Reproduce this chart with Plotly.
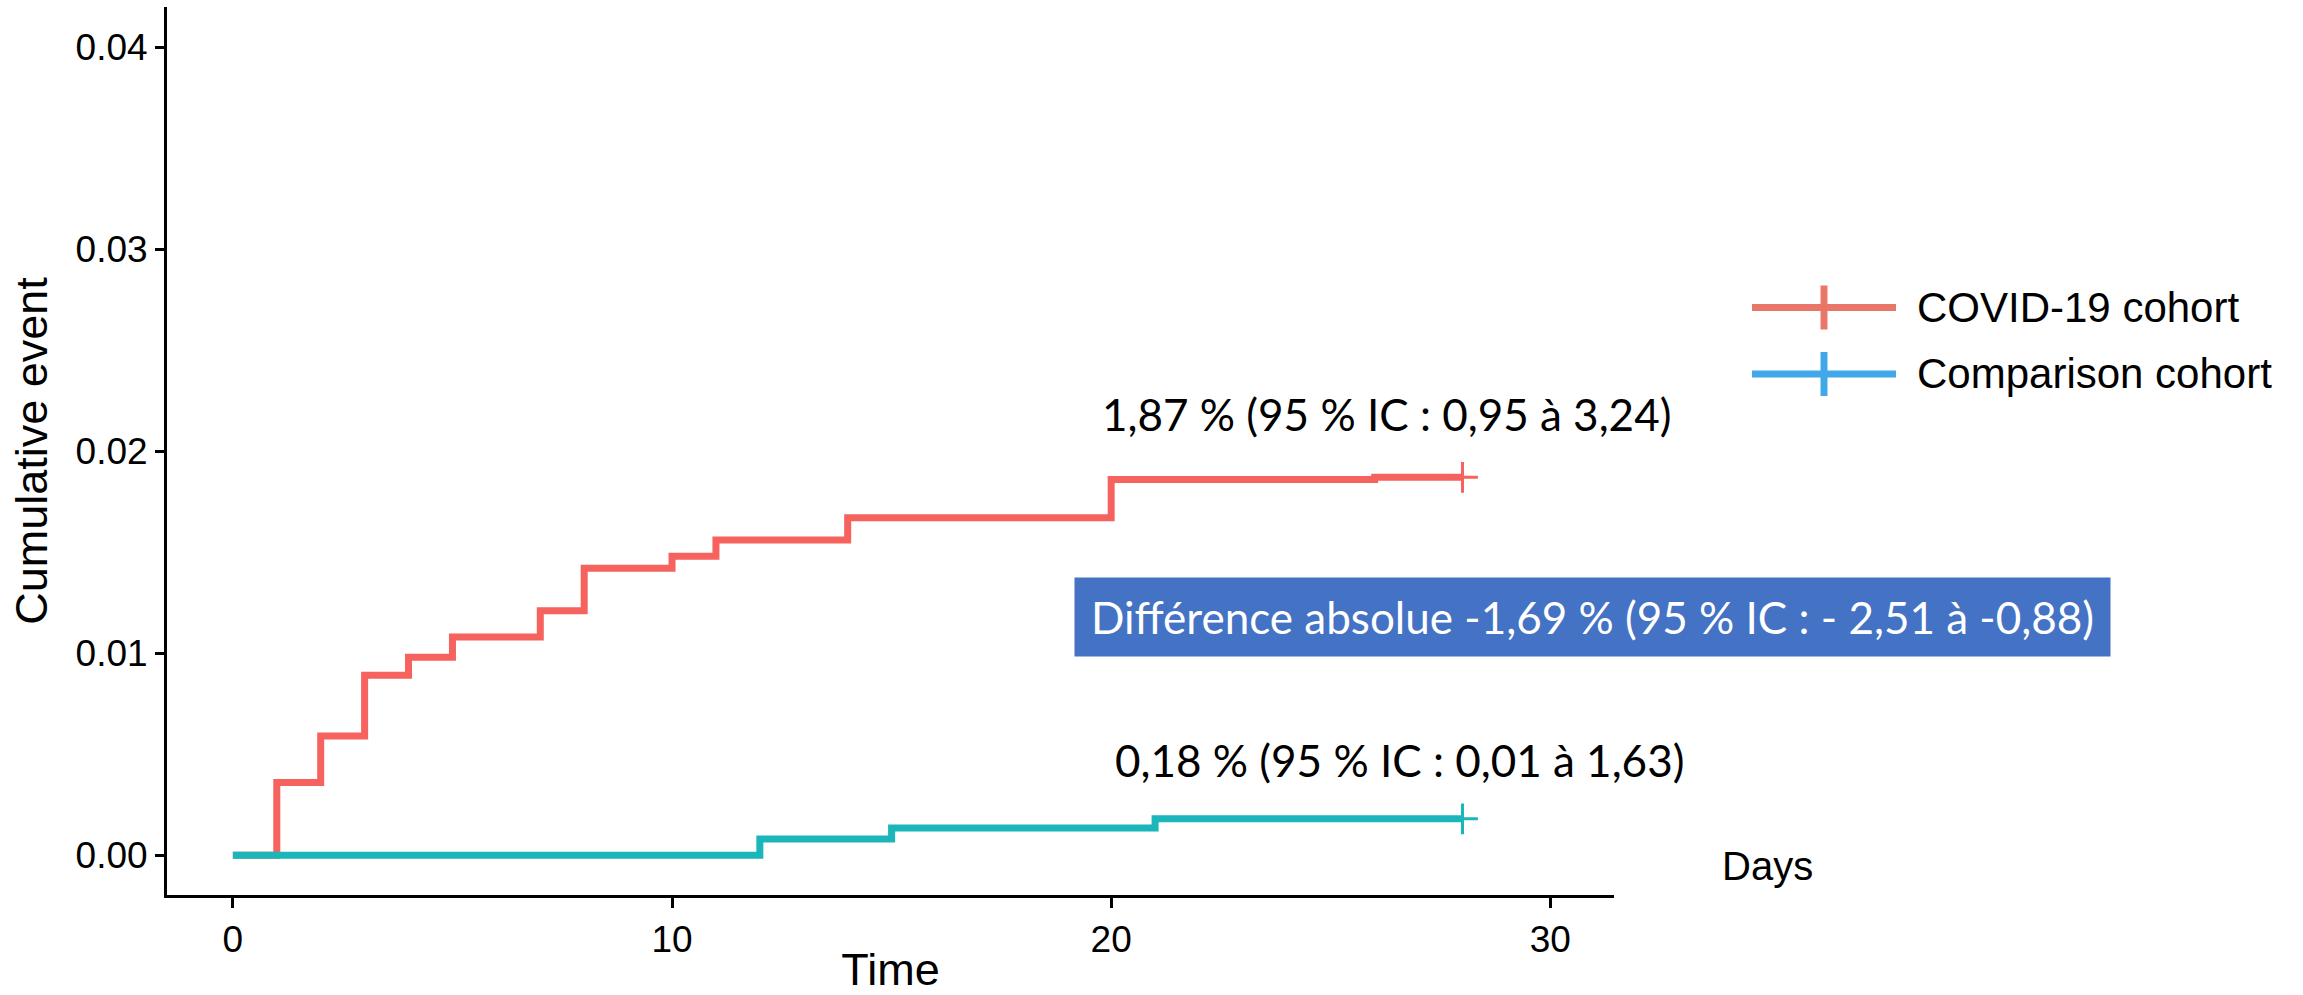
import plotly.graph_objects as go

# ---- data ----
covid_days = [0, 1, 2, 3, 4, 5, 7, 8, 10, 11, 14, 20, 26, 28]
covid_cum = [0.0, 0.0036, 0.0059, 0.0089, 0.0098, 0.0108, 0.0121, 0.0142,
             0.0148, 0.0156, 0.0167, 0.0186, 0.0187, 0.0187]
comp_days = [0, 12, 15, 21, 28]
comp_cum = [0.0, 0.0008, 0.00135, 0.0018, 0.0018]
censor_covid_day = [28]
censor_covid_val = [0.0187]
censor_comp_day = [28]
censor_comp_val = [0.0018]

series_names = ["COVID-19 cohort", "Comparison cohort"]
x_ticks = [0, 10, 20, 30]
y_ticks = [0.0, 0.01, 0.02, 0.03, 0.04]
y_ticktext = ["0.00", "0.01", "0.02", "0.03", "0.04"]

label_covid = "1,87 % (95 % IC : 0,95 à 3,24)"
label_comp = "0,18 % (95 % IC : 0,01 à 1,63)"
label_diff = "Différence absolue -1,69 % (95 % IC : - 2,51 à -0,88)"

RED = "#F6625D"
TEAL = "#1AB6B9"
LEG_RED = "#E97668"
LEG_BLUE = "#40A8E8"

W, H = 2303, 995
ML, MR, MT, MB = 167, 689, 7, 100
PW, PH = W - ML - MR, H - MT - MB


def px(xp):
    return (xp - ML) / PW


def py(yp):
    return (H - MB - yp) / PH


fig = go.Figure()
fig.add_trace(go.Scatter(x=covid_days, y=covid_cum, mode="lines",
                         line=dict(color=RED, width=7, shape="hv"),
                         name=series_names[0], showlegend=False))
fig.add_trace(go.Scatter(x=comp_days, y=comp_cum, mode="lines",
                         line=dict(color=TEAL, width=7, shape="hv"),
                         name=series_names[1], showlegend=False))
fig.add_trace(go.Scatter(x=censor_covid_day, y=censor_covid_val, mode="markers",
                         marker=dict(symbol="cross-thin", size=22,
                                     line=dict(color=RED, width=3)),
                         showlegend=False, hoverinfo="skip"))
fig.add_trace(go.Scatter(x=censor_comp_day, y=censor_comp_val, mode="markers",
                         marker=dict(symbol="cross-thin", size=22,
                                     line=dict(color=TEAL, width=3)),
                         showlegend=False, hoverinfo="skip"))

axis_font = dict(family="Liberation Sans, Arial, sans-serif", size=37, color="black")
title_font = dict(family="Liberation Sans, Arial, sans-serif", size=45, color="black")

fig.update_xaxes(range=[-1.5, 31.45], tickvals=x_ticks, ticks="outside",
                 ticklen=10, tickwidth=2.5, tickcolor="black",
                 showline=True, linewidth=3, linecolor="black",
                 showgrid=False, zeroline=False, tickfont=axis_font,
                 automargin=False,
                 title=dict(text="Time", font=title_font, standoff=6))
fig.update_yaxes(range=[-0.00197, 0.04198], tickvals=y_ticks, ticktext=y_ticktext,
                 ticks="outside", ticklen=9, tickwidth=2.5, tickcolor="black",
                 showline=True, linewidth=3, linecolor="black",
                 showgrid=False, zeroline=False, tickfont=axis_font,
                 automargin=False,
                 title=dict(text="Cumulative event", font=title_font, standoff=14))

ann_font = dict(family="Lato, Open Sans, sans-serif", size=44, color="black")
annotations = [
    dict(x=px(1100), y=py(414), xref="paper", yref="paper", xanchor="left",
         yanchor="middle", text=label_covid, showarrow=False, font=ann_font),
    dict(x=px(1113), y=py(760), xref="paper", yref="paper", xanchor="left",
         yanchor="middle", text=label_comp, showarrow=False, font=ann_font),
    dict(x=px((1075 + 2110) / 2), y=py(617), xref="paper", yref="paper",
         xanchor="center", yanchor="middle", text=label_diff, showarrow=False,
         width=1035, height=78, borderpad=0, bgcolor="#4472C4",
         font=dict(family="Lato, Open Sans, sans-serif", size=44, color="white")),
    dict(x=px(1767), y=py(866), xref="paper", yref="paper", xanchor="center",
         yanchor="middle", text="Days", showarrow=False,
         font=dict(family="Liberation Sans, Arial, sans-serif", size=40, color="black")),
    dict(x=px(1915), y=py(307), xref="paper", yref="paper", xanchor="left",
         yanchor="middle", text=series_names[0], showarrow=False,
         font=dict(family="Liberation Sans, Arial, sans-serif", size=42, color="black")),
    dict(x=px(1915), y=py(373), xref="paper", yref="paper", xanchor="left",
         yanchor="middle", text=series_names[1], showarrow=False,
         font=dict(family="Liberation Sans, Arial, sans-serif", size=42, color="black")),
]

shapes = []
for color, yc in [(LEG_RED, 307.5), (LEG_BLUE, 374)]:
    shapes.append(dict(type="line", xref="paper", yref="paper",
                       x0=px(1752), x1=px(1896), y0=py(yc), y1=py(yc),
                       line=dict(color=color, width=7)))
    shapes.append(dict(type="line", xref="paper", yref="paper",
                       x0=px(1824), x1=px(1824), y0=py(yc - 22), y1=py(yc + 22),
                       line=dict(color=color, width=7)))

fig.update_layout(width=W, height=H, margin=dict(l=ML, r=MR, t=MT, b=MB),
                  plot_bgcolor="white", paper_bgcolor="white",
                  showlegend=False, annotations=annotations, shapes=shapes)

fig.write_html("out.html")
